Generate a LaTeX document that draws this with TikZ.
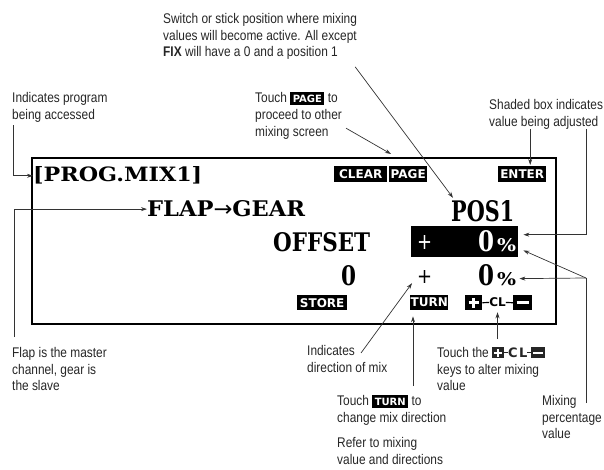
\documentclass[tikz,border=0pt]{standalone}
\usepackage{fontspec}
\usepackage{graphicx}
\usepackage{xcolor}
\newfontfamily\annfont{Liberation Sans}[FakeStretch=0.85]
\newfontfamily\lcdfont{DejaVu Serif}
\newfontfamily\keyfont{DejaVu Sans}
\usetikzlibrary{positioning,arrows.meta,calc}
% LCD characters, fitted to the width and cap height of the display text
\newcommand\lcd[3]{\resizebox{#1}{#2}{\lcdfont\bfseries #3}}
\newcommand\lcdsign[2]{\resizebox{#1}{#2}{\keyfont +}}
% black key labels used inside the running text
\newcommand\keybox[1]{{\setlength\fboxsep{0pt}\colorbox{black}{\rule[-2.5pt]{0pt}{13pt}\hspace{2.5pt}\textcolor{white}{\keyfont\bfseries\fontsize{10}{10}\selectfont #1}\hspace{2.5pt}}}}
\newcommand\pluskey{\rule[-1pt]{12pt}{11pt}\llap{\textcolor{white}{\rule[3.5pt]{8pt}{2pt}\hspace{2pt}}}\llap{\textcolor{white}{\rule[0.5pt]{2pt}{8pt}\hspace{5pt}}}}
\newcommand\minuskey{\rule[-1pt]{14pt}{11pt}\llap{\textcolor{white}{\rule[3.5pt]{10pt}{2pt}\hspace{2pt}}}}
\newcommand\pmkeys{\pluskey\rule[4pt]{4pt}{1.2pt}{\keyfont\bfseries\fontsize{13}{13}\selectfont C\kern1.5pt L}\rule[4pt]{4pt}{1.2pt}\minuskey}
\tikzset{
  ann/.style  ={font=\annfont\fontsize{14}{16.7}\selectfont, text=black!85, align=left,
                anchor=north west, inner sep=0pt},
  lcd/.style  ={inner sep=0pt, anchor=base west},
  keyb/.style ={fill=black, text=white, font=\keyfont\bfseries\fontsize{12}{12}\selectfont,
                inner sep=0pt, anchor=north west, minimum height=16pt},
  lead/.style ={draw=black!80, line width=0.7pt},
  arr/.style  ={lead, -{Stealth[length=6pt,width=4pt]}},
}
\begin{document}
\begin{tikzpicture}[x=1pt,y=-1pt]
  \useasboundingbox (0,0) rectangle (604,470);
  % display
  \node[draw, line width=2.2pt, minimum width=524pt, minimum height=166pt, inner sep=0pt,
        anchor=north west] (screen) at (31,157) {};
  \node[lcd] (prog) at (33,182) {\lcd{169pt}{15pt}{[PROG.MIX1]}};
  \node[lcd] (flap) at (147,217) {\lcd{158pt}{16pt}{FLAP{\keyfont\mdseries →}GEAR}};
  \node[lcd] (pos) at (451,221) {\lcd{63pt}{21pt}{POS1}};
  \node[lcd] (offset) at (273,251) {\lcd{97pt}{19pt}{OFFSET}};
  \node[lcd] (zero) at (341,285) {\lcd{15pt}{20pt}{0}};
  \node[fill=black, minimum width=107pt, minimum height=31pt, inner sep=0pt,
        anchor=north west] (shbox) at (411,226) {};
  \node[lcd, text=white] (plus1) at (417,250) {\lcdsign{15pt}{14pt}};
  \node[lcd, text=white] (val1) at (478,251) {\lcd{16pt}{21pt}{0}};
  \node[lcd, text=white] (pct1) at (497,251) {\lcd{19pt}{13pt}{\%}};
  \node[lcd] (plus2) at (417,283) {\lcdsign{15pt}{13pt}};
  \node[lcd] (val2) at (478,285) {\lcd{16pt}{21pt}{0}};
  \node[lcd] (pct2) at (497,285) {\lcd{19pt}{13pt}{\%}};
  \node[keyb, minimum width=53pt] (clear) at (334,166) {CLEAR};
  \node[keyb, minimum width=38pt] (pagek) at (389,166) {PAGE};
  \node[keyb, minimum width=48pt] (enter) at (498,166) {ENTER};
  \node[keyb, minimum width=50pt, minimum height=15pt] (store) at (297,295) {STORE};
  \node[keyb, minimum width=38pt, minimum height=15pt] (turnk) at (410,295) {TURN};
  \node[keyb, minimum width=17pt, minimum height=15pt] (plusk) at (465,295) {};
  \node[font=\keyfont\bfseries\fontsize{12}{12}\selectfont, inner sep=0pt] (clk) at (497.5,302.5) {CL};
  \node[keyb, minimum width=19pt, minimum height=15pt] (minusk) at (513,295) {};
  \draw[white, line width=3pt] ([xshift=-5pt]plusk.center) -- ([xshift=5pt]plusk.center)
                               ([yshift=-5pt]plusk.center) -- ([yshift=5pt]plusk.center);
  \draw[white, line width=3pt] ([xshift=-6pt]minusk.center) -- ([xshift=6pt]minusk.center);
  \draw[line width=1.2pt] (plusk.east) -- (clk.west) (clk.east) -- (minusk.west);

  % notes round the display
  \node[ann] (aswitch) at (163,13) {Switch or stick position where mixing\\values will become active. All except\\\textbf{FIX} will have a 0 and a position 1};
  \node[ann] (aprog) at (12,92) {Indicates program\\being accessed};
  \node[ann] (apage) at (255,92) {Touch \keybox{PAGE} to\\proceed to other\\mixing screen};
  \node[ann] (ashade) at (489,99) {Shaded box indicates\\value being adjusted};
  \node[ann] (aflap) at (12,347) {Flap is the master\\channel, gear is\\the slave};
  \node[ann] (adir) at (307,345) {Indicates\\direction of mix};
  \node[ann] (aturn) at (337,395) {Touch \keybox{TURN} to\\change mix direction};
  \node[ann, below=12pt of aturn.south west, anchor=north west] (arefer) {Refer to mixing\\value and directions};
  \node[ann] (akeys) at (437,347) {Touch the \pmkeys\\keys to alter mixing\\value};
  \node[ann] (amix) at (542,395) {Mixing\\percentage\\value};

  \coordinate (rail) at (586,0);
  \coordinate (mixj) at (586,278);
  \draw[arr] ([xshift=1pt,yshift=-3pt]aprog.south west) |- (prog.west);
  \draw[arr] ([xshift=2pt,yshift=10pt]aflap.north west) |- (flap.west);
  \draw[arr] ([shift={(-2pt,-7pt)}]aswitch.south east) -- ([shift={(2pt,2pt)}]pos.north west);
  \draw[arr] ([shift={(4pt,11pt)}]apage.south east) -- ([shift={(2pt,12pt)}]pagek.north west);
  \draw[arr] ($(enter.north |- ashade.south)+(8,0)$) -- ([xshift=8pt,yshift=1pt]enter.north);
  \draw[arr] (rail |- ashade.south) |- ([shift={(5pt,7pt)}]shbox.east);
  \draw[lead] ($(mixj |- amix.north)+(0,8)$) -- (mixj);
  \draw[arr] (mixj) -- ([shift={(5pt,7pt)}]shbox.south east);
  \draw[arr] (mixj) -- ([xshift=3pt]pct2.east);
  \draw[arr] ([shift={(54pt,-8pt)}]adir.north west) -- ([xshift=-5pt]plus2.south west);
  \draw[arr] ($(turnk.south west |- aturn.north)+(3,-9)$) -- ([shift={(3pt,-6pt)}]turnk.south west);
  \draw[arr] ($(clk.south |- akeys.north)+(0,-8)$) -- ([yshift=-5pt]clk.south);
\end{tikzpicture}
\end{document}
